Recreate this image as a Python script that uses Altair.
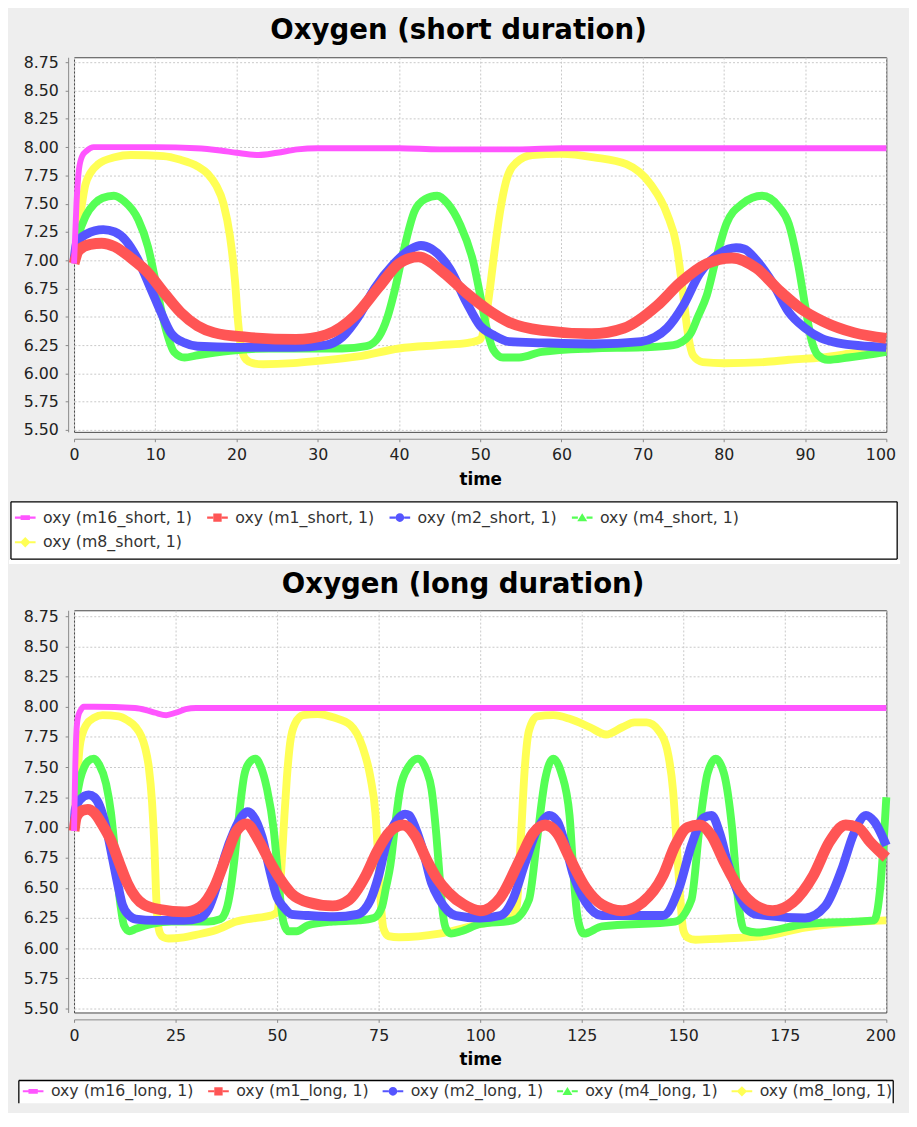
import altair as alt
import pandas as pd

# ---------------- data ----------------
colors = ["#ff55ff", "#ff5555", "#5555ff", "#55ff55", "#ffff55"]
line_widths = [6, 11, 9, 8, 8]

short_names = ["oxy (m16_short, 1)", "oxy (m1_short, 1)", "oxy (m2_short, 1)",
               "oxy (m4_short, 1)", "oxy (m8_short, 1)"]
long_names = ["oxy (m16_long, 1)", "oxy (m1_long, 1)", "oxy (m2_long, 1)",
              "oxy (m4_long, 1)", "oxy (m8_long, 1)"]

y_ticks = [5.5, 5.75, 6.0, 6.25, 6.5, 6.75, 7.0, 7.25, 7.5, 7.75, 8.0, 8.25, 8.5, 8.75]
x_ticks_short = [0, 10, 20, 30, 40, 50, 60, 70, 80, 90, 100]
x_ticks_long = [0, 25, 50, 75, 100, 125, 150, 175, 200]

# (time, oxy) pairs -- short duration
m16_short = [(0, 6.97), (0.3, 7.5), (0.6, 7.8), (1.0, 7.92), (1.6, 7.97), (2.4, 8.0), (5, 8.0),
             (10, 8.0), (15, 7.99), (18, 7.97), (20, 7.95), (22.7, 7.93), (25, 7.95), (27.5, 7.98),
             (30, 7.99), (35, 7.99), (40, 7.99), (45, 7.98), (50, 7.98), (55, 7.98), (60, 7.99),
             (70, 7.99), (80, 7.99), (90, 7.99), (100, 7.99)]
m1_short = [(0, 6.97), (0.6, 7.09), (2, 7.14), (3.4, 7.15), (5, 7.12), (7, 7.02), (9.1, 6.89),
            (11.1, 6.71), (13.1, 6.54), (15.2, 6.42), (17.2, 6.36), (21.2, 6.32), (27.3, 6.30),
            (31, 6.34), (34.6, 6.51), (37.6, 6.77), (40, 6.97), (42.4, 7.03), (45.5, 6.89),
            (48.3, 6.71), (50.8, 6.57), (53.6, 6.45), (57.6, 6.38), (63.7, 6.35), (67.7, 6.40),
            (71.8, 6.6), (74.6, 6.8), (77.9, 6.97), (81, 7.02), (84, 6.93), (87, 6.72),
            (89.5, 6.57), (92.2, 6.46), (96, 6.36), (100, 6.31)]
m2_short = [(0, 7.0), (0.3, 7.15), (1.5, 7.23), (3.6, 7.27), (5, 7.25), (6.3, 7.18), (7.9, 7.0),
            (9.5, 6.74), (10.7, 6.54), (11.9, 6.36), (13.6, 6.27), (15.2, 6.24), (20, 6.23),
            (27, 6.23), (31, 6.25), (33, 6.32), (35, 6.5), (37, 6.75), (39.4, 6.97), (41.5, 7.1),
            (42.7, 7.13), (44, 7.1), (46.3, 6.92), (48.3, 6.63), (50, 6.42), (51.6, 6.34),
            (53.6, 6.28), (57.6, 6.27), (64, 6.26), (69.8, 6.28), (71.5, 6.32), (73, 6.4),
            (75, 6.6), (77, 6.88), (79.5, 7.06), (81.5, 7.11), (82.5, 7.1), (84, 7.0), (86, 6.8),
            (88, 6.54), (90, 6.4), (92, 6.31), (94, 6.27), (100, 6.23)]
m4_short = [(0, 7.0), (0.5, 7.2), (1.5, 7.4), (2.5, 7.5), (3.5, 7.55), (4.9, 7.57), (6.2, 7.52),
            (7.9, 7.36), (9.1, 7.12), (9.9, 6.86), (10.7, 6.57), (11.5, 6.34), (12.3, 6.19),
            (13.6, 6.14), (15.2, 6.16), (19.2, 6.2), (24, 6.22), (28, 6.22), (33, 6.22), (36, 6.24),
            (37.5, 6.32), (38.6, 6.5), (39.4, 6.71), (40.4, 7.03), (41.9, 7.43), (43.2, 7.54),
            (44.7, 7.57), (46, 7.5), (47.5, 7.32), (49.2, 6.97), (50, 6.69), (50.8, 6.40),
            (51.6, 6.21), (52.8, 6.14), (54.8, 6.14), (57.6, 6.19), (63.7, 6.22), (70, 6.23),
            (73.8, 6.25), (75.8, 6.34), (76.8, 6.5), (77.9, 6.69), (79.1, 7.03), (80.3, 7.32),
            (82.3, 7.5), (84.7, 7.57), (86.8, 7.47), (88, 7.32), (89.2, 6.94), (90, 6.6),
            (90.8, 6.29), (91.6, 6.16), (92.8, 6.12), (95.3, 6.14), (100, 6.19)]
m8_short = [(0, 7.0), (0.4, 7.2), (1.4, 7.67), (2, 7.77), (3, 7.85), (5, 7.91), (7, 7.93),
            (11, 7.92), (13, 7.89), (15.2, 7.83), (16.5, 7.76), (17.5, 7.66), (18.4, 7.5),
            (19.2, 7.21), (19.8, 6.83), (20.2, 6.45), (20.6, 6.22), (21.2, 6.12), (22, 6.09),
            (23.3, 6.08), (27, 6.09), (30, 6.11), (35, 6.15), (40, 6.22), (45, 6.25), (48.5, 6.27),
            (50, 6.3), (50.6, 6.45), (51.2, 6.75), (51.8, 7.1), (52.4, 7.41), (53.2, 7.70),
            (54.4, 7.86), (56.4, 7.93), (60, 7.94), (64, 7.91), (68, 7.85), (71, 7.67), (73, 7.41),
            (74.2, 7.12), (75, 6.69), (75.6, 6.34), (76.2, 6.16), (77.4, 6.10), (80, 6.09),
            (85, 6.10), (88, 6.12), (92, 6.14), (96, 6.18), (100, 6.22)]

# (time, oxy) pairs -- long duration
m16_long = [(0, 6.97), (0.3, 7.5), (0.6, 7.8), (1.0, 7.92), (1.6, 7.97), (2.4, 8.0), (5, 8.0),
            (15, 7.99), (18, 7.97), (20, 7.95), (22.7, 7.93), (25, 7.95), (27.5, 7.98), (30, 7.99),
            (40, 7.99), (60, 7.99), (80, 7.99), (100, 7.99), (130, 7.99), (160, 7.99), (200, 7.99)]
m1_long = [(0, 6.97), (0.6, 7.09), (2, 7.14), (3.4, 7.15), (5, 7.12), (7, 7.02), (9.1, 6.89),
           (11.1, 6.71), (13.1, 6.54), (15.2, 6.42), (17.2, 6.36), (21.2, 6.32), (27.3, 6.30),
           (31, 6.34), (34.6, 6.51), (37.6, 6.77), (40, 6.97), (42.4, 7.03), (45.5, 6.89),
           (48.3, 6.71), (50.8, 6.57), (53.6, 6.45), (57.6, 6.38), (63.7, 6.35), (67.7, 6.40),
           (71.8, 6.6), (74.6, 6.8), (77.9, 6.97), (81, 7.02), (84, 6.93), (87, 6.72),
           (89.5, 6.57), (92.2, 6.46), (96, 6.36), (100, 6.31), (105, 6.42), (110, 6.75),
           (113, 6.95), (116, 7.02), (119, 6.95), (122, 6.75), (126, 6.5), (130, 6.36),
           (135, 6.31), (140, 6.38), (145, 6.6), (148, 6.85), (151, 7.0), (154, 7.02),
           (157, 6.93), (160, 6.72), (164, 6.48), (168, 6.35), (172, 6.31), (177, 6.38),
           (182, 6.6), (186, 6.88), (190, 7.02), (193, 7.0), (196, 6.88), (200, 6.75)]
m2_long = [(0, 7.0), (0.3, 7.15), (1.5, 7.23), (3.6, 7.27), (5, 7.25), (6.3, 7.18), (7.9, 7.0),
           (9.5, 6.74), (10.7, 6.54), (11.9, 6.36), (13.6, 6.27), (15.2, 6.24), (20, 6.23),
           (27, 6.23), (31, 6.25), (33, 6.32), (35, 6.5), (37, 6.75), (39.4, 6.97), (41.5, 7.1),
           (42.7, 7.13), (44, 7.1), (46.3, 6.92), (48.3, 6.63), (50, 6.42), (51.6, 6.34),
           (53.6, 6.28), (57.6, 6.27), (64, 6.26), (69.8, 6.28), (71.5, 6.32), (73, 6.4),
           (75, 6.6), (77, 6.88), (79.5, 7.06), (81.5, 7.11), (82.5, 7.1), (84, 7.0), (86, 6.8),
           (88, 6.54), (90, 6.4), (92, 6.31), (94, 6.27), (100, 6.25), (105, 6.27), (108, 6.4),
           (111, 6.7), (114, 6.98), (117, 7.1), (119, 7.05), (121, 6.85), (123, 6.6),
           (126, 6.38), (130, 6.27), (145, 6.27), (149, 6.5), (152, 6.85), (155, 7.08),
           (157, 7.1), (159, 6.95), (161, 6.7), (164, 6.42), (168, 6.28), (180, 6.25),
           (185, 6.35), (189, 6.65), (192, 6.95), (195, 7.1), (197, 7.05), (200, 6.85)]
m4_long = [(0, 7.0), (0.5, 7.2), (1.5, 7.4), (2.5, 7.5), (3.5, 7.55), (4.9, 7.57), (6.2, 7.52),
           (7.9, 7.36), (9.1, 7.12), (9.9, 6.86), (10.7, 6.57), (11.5, 6.34), (12.3, 6.19),
           (13.6, 6.14), (15.2, 6.16), (19.2, 6.2), (24, 6.22), (28, 6.22), (33, 6.22), (36, 6.24),
           (37.5, 6.32), (38.6, 6.5), (39.4, 6.71), (40.4, 7.03), (41.9, 7.43), (43.2, 7.54),
           (44.7, 7.57), (46, 7.5), (47.5, 7.32), (49.2, 6.97), (50, 6.69), (50.8, 6.40),
           (51.6, 6.21), (52.8, 6.14), (54.8, 6.14), (57.6, 6.19), (63.7, 6.22), (70, 6.23),
           (73.8, 6.25), (75.8, 6.34), (76.8, 6.5), (77.9, 6.69), (79.1, 7.03), (80.3, 7.32),
           (82.3, 7.5), (84.7, 7.57), (86.8, 7.47), (88, 7.32), (89.2, 6.94), (90, 6.6),
           (90.8, 6.29), (91.6, 6.16), (92.8, 6.12), (95.3, 6.14), (100, 6.2), (108, 6.23),
           (112, 6.4), (114, 6.9), (116, 7.4), (118, 7.57), (120, 7.45), (122, 7.1), (123, 6.6),
           (124, 6.25), (125.5, 6.12), (130, 6.18), (148, 6.22), (152, 6.4), (154, 7.0),
           (156, 7.45), (158, 7.57), (160, 7.45), (162, 7.0), (163.5, 6.4), (165, 6.15),
           (168, 6.13), (180, 6.2), (197, 6.23), (198.5, 6.5), (200, 7.25)]
m8_long = [(0, 7.0), (0.4, 7.2), (1.4, 7.67), (2, 7.77), (3, 7.85), (5, 7.91), (7, 7.93),
           (11, 7.92), (13, 7.89), (15.2, 7.83), (16.5, 7.76), (17.5, 7.66), (18.4, 7.5),
           (19.2, 7.21), (19.8, 6.83), (20.2, 6.45), (20.6, 6.22), (21.2, 6.12), (22, 6.09),
           (23.3, 6.08), (27, 6.09), (30, 6.11), (35, 6.15), (40, 6.22), (45, 6.25), (48.5, 6.27),
           (50, 6.3), (50.6, 6.45), (51.2, 6.75), (51.8, 7.1), (52.4, 7.41), (53.2, 7.70),
           (54.4, 7.86), (56.4, 7.93), (60, 7.94), (64, 7.91), (68, 7.85), (71, 7.67), (73, 7.41),
           (74.2, 7.12), (75, 6.69), (75.6, 6.34), (76.2, 6.16), (77.4, 6.10), (80, 6.09),
           (90, 6.12), (100, 6.2), (105, 6.23), (108, 6.26), (109, 6.35), (110, 6.9), (111, 7.5),
           (112, 7.8), (114, 7.92), (118, 7.93), (122, 7.9), (127, 7.83), (131, 7.77),
           (135, 7.83), (138, 7.87), (141, 7.87), (144, 7.8), (146, 7.65), (147.5, 7.3),
           (148.5, 6.8), (149.3, 6.4), (150, 6.15), (151, 6.09), (153, 6.07), (160, 6.08),
           (170, 6.1), (180, 6.17), (190, 6.21), (200, 6.23)]

short_data = [m16_short, m1_short, m2_short, m4_short, m8_short]
long_data = [m16_long, m1_long, m2_long, m4_long, m8_long]

# legend symbols: short line with a marker (small rect, square, circle, triangle, diamond)
_bar = "M-1.31,-0.13L-0.55,-0.13L-0.55,0.13L-1.31,0.13Z M0.55,-0.13L1.31,-0.13L1.31,0.13L0.55,0.13Z "
symbol_paths = [
    _bar + "M-0.59,-0.29L0.59,-0.29L0.59,0.29L-0.59,0.29Z",
    _bar + "M-0.53,-0.53L0.53,-0.53L0.53,0.53L-0.53,0.53Z",
    _bar + "M-0.55,0A0.55,0.55 0 1 1 0.55,0A0.55,0.55 0 1 1 -0.55,0Z",
    _bar + "M0,-0.55L0.63,0.47L-0.63,0.47Z",
    _bar + "M0,-0.66L0.66,0L0,0.66L-0.66,0Z",
]

FONT = "DejaVu Sans"
PLOT_W = 824


def panel(title, names, data, xmax, xticks, ydom, height, cols, lx, ly, colpad, box,
          gap=None, title_pad=9):
    rows = []
    for name, pairs in zip(names, data):
        for t, v in pairs:
            rows.append({"series": name, "t": t, "v": v})
    df = pd.DataFrame(rows)

    cscale = alt.Scale(domain=names, range=colors)
    sscale = alt.Scale(domain=names, range=symbol_paths)
    x = alt.X("t:Q", scale=alt.Scale(domain=[0, xmax], nice=False, zero=False),
              axis=alt.Axis(values=xticks, title="time", titleFont=FONT, titleFontSize=17,
                            titleFontWeight="bold", titleColor="black", titlePadding=title_pad,
                            labelFont=FONT, labelFontSize=16, labelColor="#222222",
                            labelPadding=5, tickSize=3, tickColor="#888888",
                            labelOffset={"condition": {"test": f"datum.value == {xmax}",
                                                       "value": -6}, "value": 0},
                            domainColor="#888888", offset=7, grid=True,
                            gridColor="#c8c8c8", gridDash=[2, 2], labelFlush=False,
                            labelOverlap=False))
    y = alt.Y("v:Q", scale=alt.Scale(domain=ydom, nice=False, zero=False),
              axis=alt.Axis(values=y_ticks, format=".2f", title=None, labelFont=FONT,
                            labelFontSize=16, labelColor="#222222", labelPadding=7,
                            tickSize=3, tickColor="#888888", domainColor="#888888",
                            offset=6, grid=True, gridColor="#c8c8c8", gridDash=[2, 2],
                            labelFlush=False, labelOverlap=False))

    deco = pd.DataFrame({"k": [0]})
    x0, x1, y0, y1 = box
    layers = []
    if gap is not None:
        layers.append(alt.Chart(deco).mark_rect(fill="white", strokeWidth=0).encode(
            x=alt.value(gap[0]), x2=alt.value(gap[1]), y=alt.value(gap[2]), y2=alt.value(gap[3])))
    # legend frame: white box with black edges (bottom edge only when it is on the page)
    layers.append(alt.Chart(deco).mark_rect(fill="white", strokeWidth=0).encode(
        x=alt.value(x0), x2=alt.value(x1), y=alt.value(y0), y2=alt.value(y1)))
    edges = [(x0, x1, y0, y0), (x0, x0, y0, y1), (x1, x1, y0, y1)]
    if gap is not None:
        edges.append((x0, x1, y1, y1))
    for ex0, ex1, ey0, ey1 in edges:
        layers.append(alt.Chart(deco).mark_rule(color="black", strokeWidth=1.3).encode(
            x=alt.value(ex0), x2=alt.value(ex1), y=alt.value(ey0), y2=alt.value(ey1)))

    # drawn bottom to top: m8, m4, m2, m1, m16
    for i in [4, 3, 2, 1, 0]:
        layers.append(
            alt.Chart(df).transform_filter(alt.datum.series == names[i])
            .mark_line(strokeWidth=line_widths[i], interpolate="monotone", color=colors[i])
            .encode(x=x, y=y)
        )

    legend = alt.Legend(orient="none", legendX=lx, legendY=ly, direction="horizontal",
                        columns=cols, title=None, labelFont=FONT, labelFontSize=16,
                        labelColor="#333333", labelLimit=400, symbolSize=256,
                        symbolOffset=2.5, symbolStrokeWidth=0, symbolOpacity=1,
                        labelOffset=10, columnPadding=colpad, rowPadding=9, padding=0)
    layers.append(
        alt.Chart(df).transform_filter(alt.datum.t == 0)
        .mark_point(filled=True, opacity=0)
        .encode(x=x, y=y,
                color=alt.Color("series:N", scale=cscale, legend=legend),
                shape=alt.Shape("series:N", scale=sscale, legend=legend))
    )
    return alt.layer(*layers).properties(
        width=PLOT_W, height=height,
        title=alt.Title(title, font=FONT, fontSize=28, fontWeight="bold", color="black",
                        anchor="middle", frame="bounds", offset=-12,
                        baseline="alphabetic"))


top = panel("Oxygen (short duration)", short_names, short_data, 100, x_ticks_short,
            [5.483, 8.794], 380, 4, -60, 459, 15, box=(-64, 835, 451, 509),
            gap=(-66, 838, 510, 514))
bottom = panel("Oxygen (long duration)", long_names, long_data, 200, x_ticks_long,
               [5.467, 8.799], 408, 5, -52, 480, 14, box=(-56, 831, 477, 500))

chart = (
    alt.vconcat(top, bottom, spacing=181, bounds="flush")
    .resolve_scale(color="independent", shape="independent", x="independent", y="independent")
    .configure(background="#eeeeee", padding={"left": 0, "top": 0, "right": 0, "bottom": 0})
    .configure_view(fill="white", stroke="#444444", strokeWidth=1)
)

chart.save("out.html", embed_options={"renderer": "svg", "actions": False})
